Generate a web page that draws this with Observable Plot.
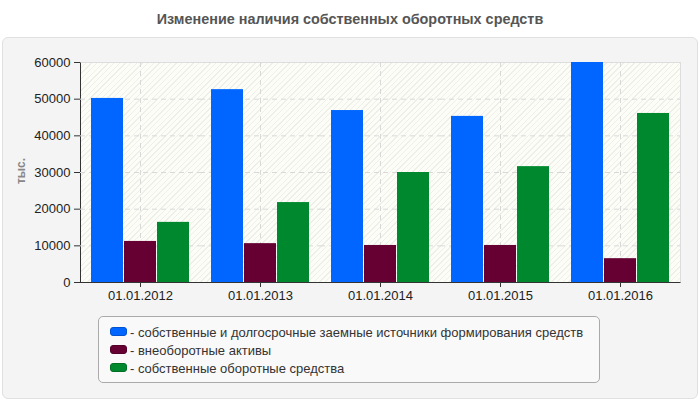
<!DOCTYPE html>
<html>
<head>
<meta charset="utf-8">
<script src="https://cdn.jsdelivr.net/npm/d3@7"></script>
<script src="https://cdn.jsdelivr.net/npm/@observablehq/plot@0.6"></script>
<style>
  body { margin: 0; font-family: "Liberation Sans", Arial, sans-serif; }
  #wrap { position: relative; width: 700px; height: 400px; background: #fff; overflow: hidden; }
  #title { position: absolute; left: 0; top: 11px; width: 700px; text-align: center; font-weight: bold; font-size: 14.4px; color: #555; }
  #panel { position: absolute; left: 2px; top: 37px; width: 694px; height: 360px; background: #f4f4f4; border: 1px solid #e0e0e0; border-radius: 6px; }
  #plotbg { position: absolute; left: 80px; top: 62px; width: 599px; height: 219px;
    background: repeating-linear-gradient(135deg, #fdfdf8 0px, #fdfdf8 3px, #efefe9 3px, #efefe9 4px);
    border-top: 1px solid #ddd; border-right: 1px solid #ddd; border-left: 1px solid #333; border-bottom: 1px solid #333; }
  #ylabel { position: absolute; left: 21px; top: 171px; transform: translate(-50%, -50%) rotate(-90deg); font-size: 12px; font-weight: bold; color: #888; }
  #chart { position: absolute; left: 0; top: 0; }
  #legend { position: absolute; left: 98px; top: 316px; width: 500px; height: 65px; background: #f9f9f9; border: 1px solid #aaa; border-radius: 5px; }
  .item { position: absolute; left: 11px; font-size: 13px; color: #333; white-space: nowrap; line-height: 15px; }
  .sw { display: inline-block; width: 15px; height: 7px; border-radius: 3px; margin-right: 3px; vertical-align: 1px; }
</style>
</head>
<body>
<div id="wrap">
  <div id="title"></div>
  <div id="panel"></div>
  <div id="plotbg"></div>
  <div id="ylabel"></div>
  <div id="chart"></div>
  <div id="legend"></div>
</div>
<script>
const titleText = "Изменение наличия собственных оборотных средств";
const yLabel = "тыс.";
const dates = ["01.01.2012", "01.01.2013", "01.01.2014", "01.01.2015", "01.01.2016"];
const series = [
  "собственные и долгосрочные заемные источники формирования средств",
  "внеоборотные активы",
  "собственные оборотные средства"
];
const colors = ["#0066FF", "#660033", "#00882E"];
const sourcesValues = [50200, 52600, 46900, 45300, 60000];
const fixedAssetsValues = [11200, 10600, 10100, 10100, 6500];
const workingCapitalValues = [16400, 21800, 30000, 31600, 46100];
const yTicks = [0, 10000, 20000, 30000, 40000, 50000, 60000];
const yGrid = [10000, 20000, 30000, 40000, 50000];

const seriesValues = [sourcesValues, fixedAssetsValues, workingCapitalValues];
const data = [];
dates.forEach((d, i) => {
  series.forEach((s, j) => data.push({date: d, series: s, value: seriesValues[j][i]}));
});

document.getElementById("title").textContent = titleText;
document.getElementById("ylabel").textContent = yLabel;

const chart = Plot.plot({
  width: 700,
  height: 400,
  marginLeft: 80,
  marginRight: 20,
  marginTop: 62,
  marginBottom: 118,
  style: {background: "transparent", fontFamily: "'Liberation Sans', Arial, sans-serif", fontSize: "13px", color: "#222", overflow: "visible"},
  fx: {domain: dates, padding: 0, label: null, axis: null},
  x: {domain: series, paddingInner: 0.03, paddingOuter: 0.28, axis: null},
  y: {domain: [0, 60000]},
  color: {domain: series, range: colors},
  marks: [
    Plot.gridY(yGrid, {stroke: "#d8d8d8", strokeOpacity: 1, strokeDasharray: "5,4"}),
    Plot.gridFx({stroke: "#d8d8d8", strokeOpacity: 1, strokeDasharray: "5,4"}),
    Plot.barY(data, {fx: "date", x: "series", y: "value", fill: "series"}),
    Plot.axisY(yTicks, {tickSize: 6, tickPadding: 4, label: null, tickFormat: d => String(d), stroke: "#333", fill: "#222", fontSize: 13}),
    Plot.axisFx({anchor: "bottom", tickSize: 5, tickPadding: 3, label: null, stroke: "#333", fill: "#222", fontSize: 13})
  ]
});
document.getElementById("chart").appendChild(chart);

const legend = document.getElementById("legend");
series.forEach((s, j) => {
  const it = document.createElement("div");
  it.className = "item";
  it.style.top = (8 + j * 18) + "px";
  const sw = document.createElement("span");
  sw.className = "sw";
  sw.style.background = colors[j];
  sw.style.border = "1px solid " + d3.color(colors[j]).darker(0.6);
  it.appendChild(sw);
  it.appendChild(document.createTextNode("- " + s));
  legend.appendChild(it);
});
</script>
</body>
</html>
